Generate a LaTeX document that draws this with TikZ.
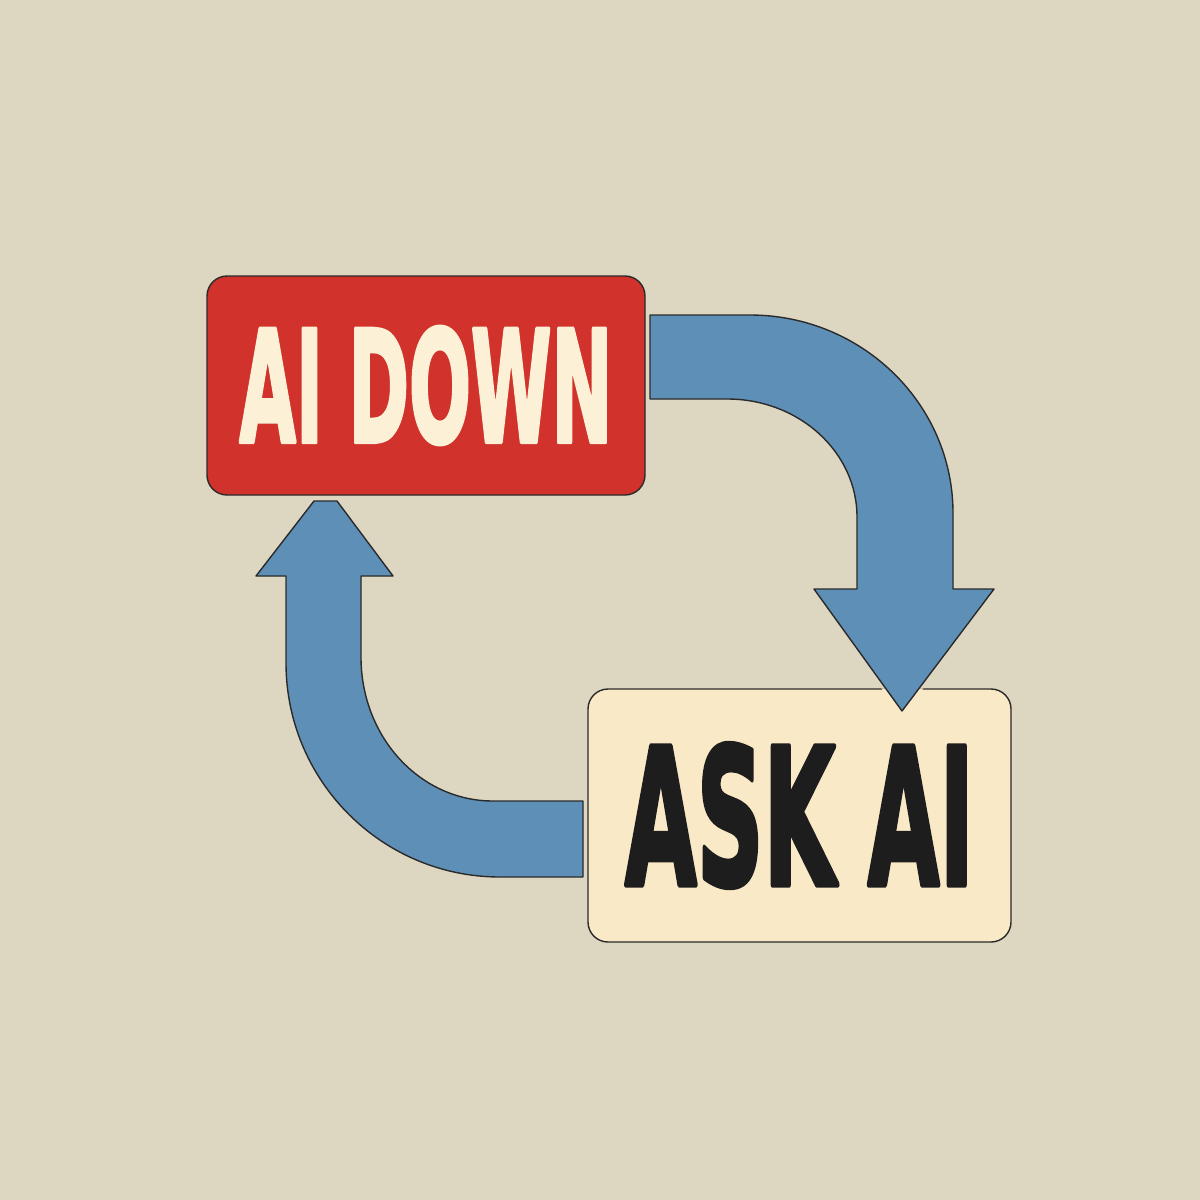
\documentclass[tikz,border=0pt]{standalone}
\usepackage{fontspec}
\setmainfont{DejaVu Sans}[BoldFeatures={FakeBold=3}]
\usepackage{graphicx}
\definecolor{bg}{HTML}{DDD6C0}
\definecolor{signred}{HTML}{D1322C}
\definecolor{cream}{HTML}{FCF1D6}
\definecolor{paper}{HTML}{F9E9C6}
\definecolor{arrowblue}{HTML}{5E8FB7}
\definecolor{ink}{HTML}{1D1D1D}
\definecolor{edge}{HTML}{2A2A2A}
\begin{document}
\begin{tikzpicture}[x=1pt,y=-1pt,line join=round,line width=1.4pt,
  sign/.style={draw=edge,rounded corners=20pt,inner sep=0pt},
  bigarrow/.style={fill=arrowblue,draw=edge}]
\fill[bg](0,0) rectangle (1200,1200);

\node[sign,fill=signred,minimum width=438pt,minimum height=219pt] (down) at (426,385.5)
  {\resizebox{373pt}{115pt}{\color{cream}\bfseries AI DOWN}};
\node[sign,fill=paper,minimum width=423pt,minimum height=253pt] (ask) at (799.5,815.5)
  {\resizebox{349pt}{141pt}{\color{ink}\bfseries ASK AI}};

% arrow from AI DOWN to ASK AI
\path[save path=\arrowright](650,315)--(750,315)
  .. controls (862,315) and (953,404) .. (953,513)--(953,589)--(994,589)--(902,711)
  --(814,589)--(857,589)--(857,517)
  .. controls (857,452) and (799,399) .. (727,399)--(650,399)--cycle;
\begin{scope}
\clip[rounded corners=20pt](ask.north west) rectangle (ask.south east);
\draw[paper,line width=7pt,use path=\arrowright];
\end{scope}
\filldraw[bigarrow,use path=\arrowright];

% arrow from ASK AI back to AI DOWN
\filldraw[bigarrow](314,501)--(337,501)--(393,576)--(361,576)--(361,657)
  .. controls (361,737) and (420,801) .. (493,801)--(583,801)--(583,877)--(500,877)
  .. controls (382,877) and (286,781) .. (286,663)--(286,576)--(256,576)--cycle;
\end{tikzpicture}
\end{document}
